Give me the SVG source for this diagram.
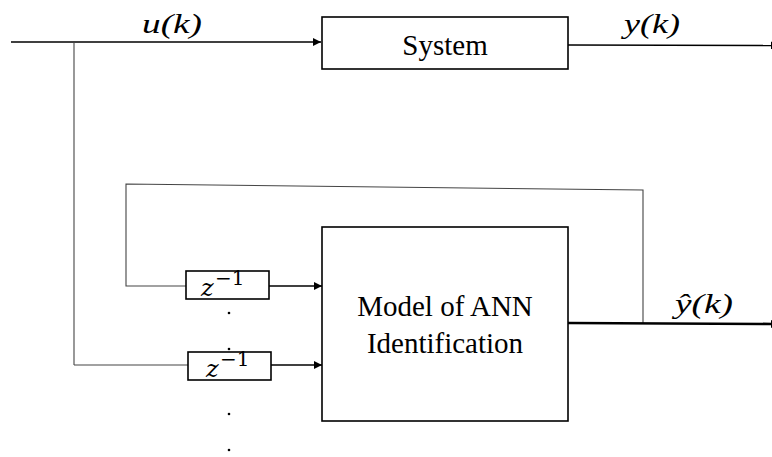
<svg xmlns="http://www.w3.org/2000/svg" width="772" height="457" viewBox="0 0 772 457">
<style>
.box{fill:#fff;stroke:#000;stroke-width:1.6}
.ln{fill:none;stroke:#000;stroke-width:1.4}
.thin{fill:none;stroke:#444;stroke-width:1.1}
</style>
<defs>
<marker id="ah" viewBox="0 0 10 10" refX="10" refY="5" markerWidth="8" markerHeight="8" markerUnits="userSpaceOnUse" orient="auto">
<path d="M0,0 L10,5 L0,10 z" fill="#000"/>
</marker>
</defs>
<g id="connectors">
<line class="ln" x1="11" y1="42" x2="321" y2="42" marker-end="url(#ah)"/>
<line class="thin" x1="74" y1="42" x2="74" y2="365"/>
<line class="thin" x1="74" y1="365" x2="188" y2="365"/>
<line class="ln" x1="568" y1="45" x2="779" y2="45.5" marker-end="url(#ah)"/>
<polyline class="thin" points="186,286 126,286 126,184 643,190 643,323"/>
<line class="ln" x1="269" y1="286" x2="322" y2="286" marker-end="url(#ah)"/>
<line class="ln" x1="271" y1="365" x2="322" y2="365" marker-end="url(#ah)"/>
<line x1="568" y1="323" x2="779" y2="324" stroke="#000" stroke-width="2.6" marker-end="url(#ah)"/>
</g>
<g id="labels" font-family="Liberation Serif, serif" font-style="italic" font-size="28" fill="#000">
<text x="172" y="33" text-anchor="middle" textLength="60" lengthAdjust="spacingAndGlyphs">u(k)</text>
<text x="652" y="33" text-anchor="middle" textLength="56" lengthAdjust="spacingAndGlyphs">y(k)</text>
<text x="704" y="313" text-anchor="middle" textLength="58" lengthAdjust="spacingAndGlyphs">ŷ(k)</text>
</g>
<g id="system">
<rect class="box" x="322" y="17" width="246" height="52"/>
<text x="445" y="55" text-anchor="middle" font-family="Liberation Serif, serif" font-size="29">System</text>
</g>
<g id="ann">
<rect class="box" x="322" y="227" width="246" height="194"/>
<text x="445" y="316" text-anchor="middle" font-family="Liberation Serif, serif" font-size="29">Model of ANN</text>
<text x="445" y="353" text-anchor="middle" font-family="Liberation Serif, serif" font-size="29">Identification</text>
</g>
<g id="delay1">
<rect class="box" x="186" y="271" width="83" height="28"/>
<text x="201" y="296" font-family="DejaVu Serif, serif" font-size="24"><tspan font-style="italic">z</tspan><tspan x="215" y="285" font-size="20">−1</tspan></text>
</g>
<g id="delay2">
<rect class="box" x="188" y="352" width="83" height="28"/>
<text x="206" y="377" font-family="DejaVu Serif, serif" font-size="24"><tspan font-style="italic">z</tspan><tspan x="220" y="366" font-size="20">−1</tspan></text>
</g>
<g id="dots" fill="#000">
<circle cx="229" cy="313" r="1.3"/>
<circle cx="229" cy="349" r="1.3"/>
<circle cx="229" cy="414" r="1.3"/>
<circle cx="229" cy="450" r="1.3"/>
</g>
</svg>
